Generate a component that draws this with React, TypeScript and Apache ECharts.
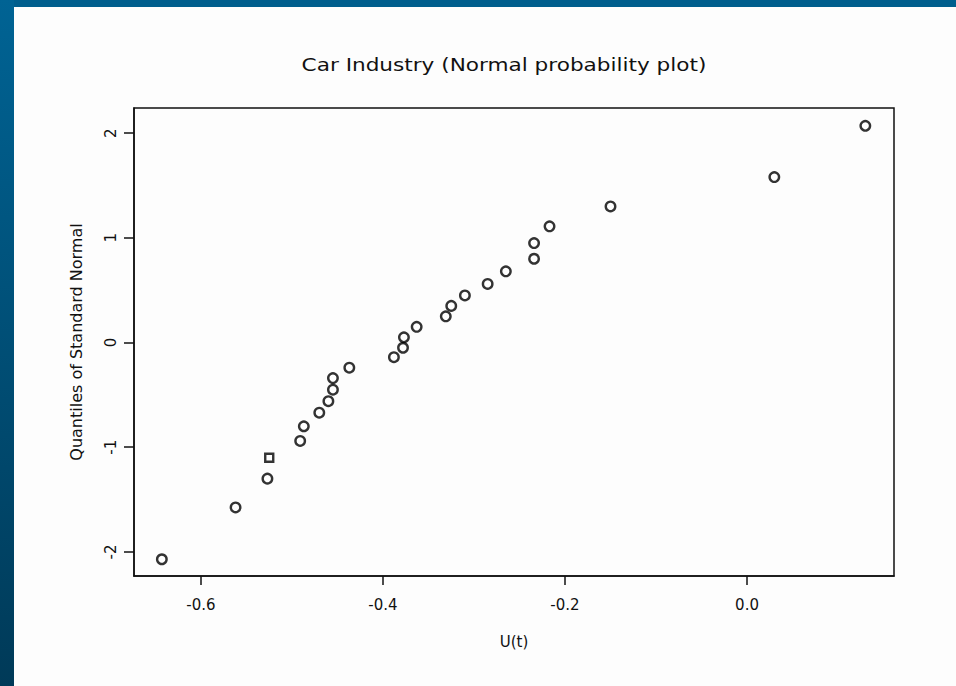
import React, { useEffect, useRef } from "react";
import * as echarts from "echarts";

// U(t) against the matching quantile of the standard normal, one pair per car maker
const uValues = [
  -0.643, -0.562, -0.527, -0.525, -0.491, -0.487, -0.47, -0.46, -0.455, -0.455,
  -0.437, -0.388, -0.378, -0.377, -0.363, -0.331, -0.325, -0.31, -0.285, -0.265,
  -0.234, -0.234, -0.217, -0.15, 0.03, 0.13,
];
const normalQuantiles = [
  -2.07, -1.575, -1.3, -1.1, -0.94, -0.8, -0.67, -0.56, -0.45, -0.34,
  -0.24, -0.14, -0.05, 0.05, 0.15, 0.25, 0.35, 0.45, 0.56, 0.68,
  0.8, 0.95, 1.11, 1.3, 1.58, 2.07,
];
const xTicks = [-0.6, -0.4, -0.2, 0.0];
const yTicks = [-2, -1, 0, 1, 2];

const titleText = "Car Industry (Normal probability plot)";
const xName = "U(t)";
const yName = "Quantiles of Standard Normal";

// the fourth point was plotted with a square marker
const SQUARE_POINT = 3;

const FONT = "DejaVu Sans";

export default function App() {
  const ref = useRef<HTMLDivElement>(null);

  useEffect(() => {
    document.body.style.margin = "0";
    if (!ref.current) return;
    const chart = echarts.init(ref.current, null, { renderer: "svg" });

    const data = uValues.map((u, i) =>
      i === SQUARE_POINT
        ? { value: [u, normalQuantiles[i]], symbol: "rect", symbolSize: 8 }
        : { value: [u, normalQuantiles[i]] }
    );

    chart.setOption({
      animation: false,
      backgroundColor: "#fdfdfd",
      grid: {
        left: 134,
        right: 62,
        top: 108,
        bottom: 110,
        show: true,
        borderColor: "#111",
        borderWidth: 1.5,
        backgroundColor: "transparent",
      },
      xAxis: {
        type: "value",
        min: -0.6736,
        max: 0.1615,
        name: xName,
        nameLocation: "middle",
        nameGap: 58,
        nameTextStyle: { fontFamily: FONT, fontSize: 15, color: "#111" },
        splitLine: { show: false },
        axisLine: { show: true, onZero: false, lineStyle: { color: "#111", width: 1.5 } },
        axisTick: {
          show: true,
          length: 9,
          customValues: xTicks,
          lineStyle: { color: "#111", width: 1.5 },
        },
        axisLabel: {
          customValues: xTicks,
          margin: 21,
          fontFamily: FONT,
          fontSize: 15,
          color: "#111",
          formatter: (v: number) => v.toFixed(1),
        },
      },
      yAxis: {
        type: "value",
        min: -2.23,
        max: 2.24,
        name: yName,
        nameLocation: "middle",
        nameGap: 50,
        nameTextStyle: { fontFamily: FONT, fontSize: 16, color: "#111" },
        splitLine: { show: false },
        axisLine: { show: true, onZero: false, lineStyle: { color: "#111", width: 1.5 } },
        axisTick: {
          show: true,
          length: 10,
          customValues: yTicks,
          lineStyle: { color: "#111", width: 1.5 },
        },
        axisLabel: {
          customValues: yTicks,
          rotate: 90,
          margin: 16,
          fontFamily: FONT,
          fontSize: 15,
          color: "#111",
        },
      },
      graphic: [
        {
          type: "rect",
          shape: { x: 0, y: 0, width: 956, height: 7 },
          style: { fill: "#005e8d" },
          silent: true,
        },
        {
          type: "rect",
          shape: { x: 0, y: 0, width: 14, height: 686 },
          style: {
            fill: new echarts.graphic.LinearGradient(0, 0, 0, 1, [
              { offset: 0, color: "#006394" },
              { offset: 1, color: "#003a58" },
            ]),
          },
          silent: true,
        },
        {
          type: "text",
          x: 504,
          y: 65,
          scaleX: 1.27,
          style: {
            text: titleText,
            fontFamily: FONT,
            fontSize: 17,
            fill: "#111",
            align: "center",
            verticalAlign: "middle",
          },
          silent: true,
        },
      ],
      series: [
        {
          type: "scatter",
          data,
          symbol: "circle",
          symbolSize: 9.5,
          itemStyle: { color: "#ffffff", borderColor: "#000", borderWidth: 2.4 },
        },
      ],
    });

    return () => chart.dispose();
  }, []);

  return (
    <div
      ref={ref}
      style={{ position: "fixed", left: 0, top: 0, width: 956, height: 686 }}
    />
  );
}
